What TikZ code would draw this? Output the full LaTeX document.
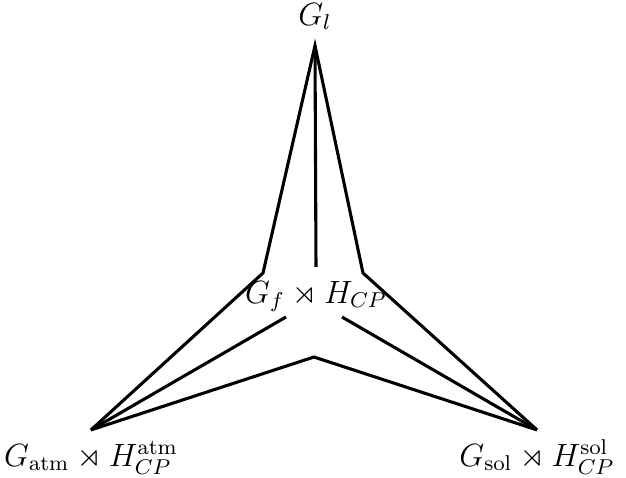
\documentclass[tikz,border=0pt]{standalone}
\usepackage{amsmath,amssymb}
\usepackage{tikz}
\usetikzlibrary{positioning}
\tikzset{
grpnode/.style={inner sep=5pt,text height=8.26pt,text depth=2.5pt,anchor=base,font=\large},
grpline/.style={line width=1.15pt,line join=miter}
}
\begin{document}
\begin{tikzpicture}[
x=0.373pt,
y=-0.373pt
]
\useasboundingbox (0,0) rectangle (626,477);
\node[grpnode] (top) at (315,25) {$G_l$};
\node[grpnode] (mid) at (316,303) {$G_f\rtimes H_{CP}$};
\node[grpnode] (atm) at (91,466) {$G_{\mathrm{atm}}\rtimes H_{CP}^{\mathrm{atm}}$};
\node[grpnode] (sol) at (537,466) {$G_{\mathrm{sol}}\rtimes H_{CP}^{\mathrm{sol}}$};
\coordinate (lbend) at (263,273);
\coordinate (rbend) at (363,273);
\coordinate (bbend) at (314,357);
\coordinate (lin) at (286,317);
\coordinate (rin) at (342,317);
\draw[grpline] (atm.north) -- (lbend) -- (top.south) -- (rbend) -- (sol.north);
\draw[grpline] (top.south) -- (mid.north);
\draw[grpline] (atm.north) -- (lin);
\draw[grpline] (sol.north) -- (rin);
\draw[grpline] (atm.north) -- (bbend) -- (sol.north);
\end{tikzpicture}
\end{document}
